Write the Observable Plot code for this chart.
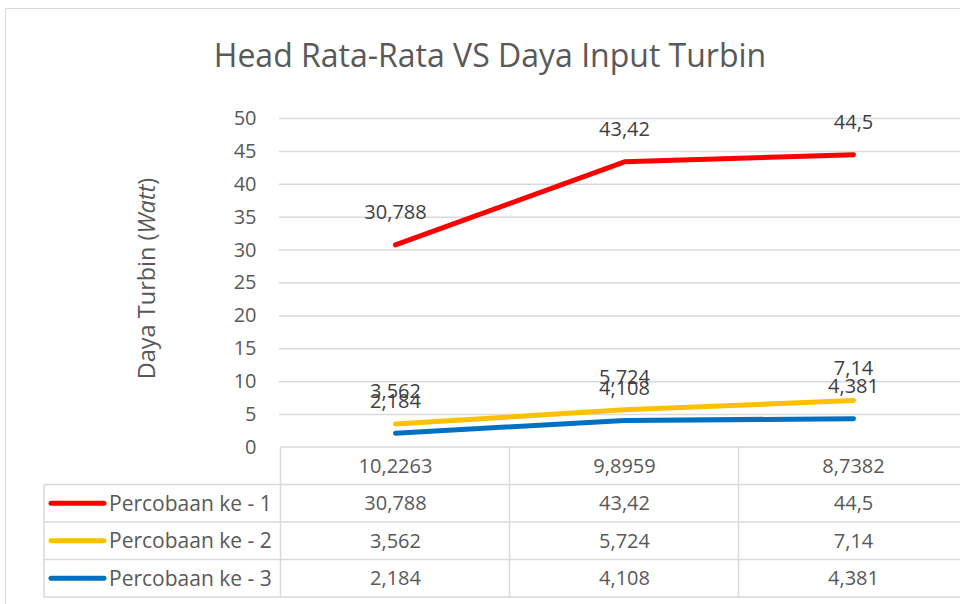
<!DOCTYPE html>
<html>
<head>
<meta charset="utf-8">
<script src="https://cdn.jsdelivr.net/npm/d3@7"></script>
<script src="https://cdn.jsdelivr.net/npm/@observablehq/plot@0.6"></script>
<style>
  html, body { margin: 0; padding: 0; background: #fff; }
  #wrap { position: relative; width: 960px; height: 604px; overflow: hidden; font-family: "Open Sans", sans-serif; }
  #frame { position: absolute; left: 5px; top: 8px; width: 1000px; height: 700px; border-left: 1.5px solid #d9d9d9; border-top: 1.5px solid #d9d9d9; }
  #title { position: absolute; left: 10px; top: 0; width: 960px; height: 100px; line-height: 110px; text-align: center; font-size: 32px; color: #595959; }
  #chart { position: absolute; left: 0; top: 100px; }
  #chart svg { overflow: visible; }
</style>
</head>
<body>
<div id="wrap">
  <div id="frame"></div>
  <div id="title">Head Rata-Rata VS Daya Input Turbin</div>
  <div id="chart"></div>
</div>
<script>
const categories = ["10,2263", "9,8959", "8,7382"];
const seriesNames = ["Percobaan ke - 1", "Percobaan ke - 2", "Percobaan ke - 3"];
const seriesColors = ["#FF0000", "#FFC000", "#0070C0"];
const percobaan1 = [30.788, 43.42, 44.5];
const percobaan2 = [3.562, 5.724, 7.14];
const percobaan3 = [2.184, 4.108, 4.381];
const yTicks = [0, 5, 10, 15, 20, 25, 30, 35, 40, 45, 50];
const yTitle = "Daya Turbin (";
const yTitleItalic = "Watt";
const yTitleEnd = ")";

const seriesValues = [percobaan1, percobaan2, percobaan3];
const fmt = v => String(v).replace(".", ",");
const rows = seriesNames.flatMap((s, i) =>
  categories.map((c, j) => ({series: s, cat: c, value: seriesValues[i][j], row: i})));

const rowH = 37.5;
const textColor = "#404040";
const axisColor = "#595959";
const gridColor = "#d9d9d9";
const fontSize = 20;
const fontFamily = "'Open Sans', sans-serif";

function tableMark(index, scales, values, dims) {
  const x = scales.x;
  const step = x(categories[1]) - x(categories[0]);
  const edges = [x(categories[0]) - step / 2, ...categories.map(c => x(c) + step / 2)];
  const top = dims.height - dims.marginBottom;
  const legendLeft = 44;
  const right = edges[edges.length - 1];
  const g = d3.create("svg:g");
  const lines = g.append("g").attr("stroke", gridColor).attr("stroke-width", 1.5).attr("fill", "none");
  lines.append("line").attr("x1", edges[0]).attr("x2", right).attr("y1", top).attr("y2", top);
  for (let r = 1; r <= seriesNames.length + 1; r++) {
    const yy = top + r * rowH;
    lines.append("line").attr("x1", legendLeft).attr("x2", right).attr("y1", yy).attr("y2", yy);
  }
  edges.forEach(e => {
    lines.append("line").attr("x1", e).attr("x2", e).attr("y1", top).attr("y2", top + (seriesNames.length + 1) * rowH);
  });
  lines.append("line").attr("x1", legendLeft).attr("x2", legendLeft).attr("y1", top + rowH).attr("y2", top + (seriesNames.length + 1) * rowH);
  seriesNames.forEach((s, i) => {
    const cy = top + rowH * (i + 1) + rowH / 2;
    g.append("line").attr("x1", 51).attr("x2", 104).attr("y1", cy).attr("y2", cy)
      .attr("stroke", seriesColors[i]).attr("stroke-width", 5).attr("stroke-linecap", "round");
    g.append("text").attr("x", 109).attr("y", cy).attr("dy", "0.35em")
      .attr("text-anchor", "start")
      .attr("font-size", 21).attr("fill", axisColor).attr("font-family", fontFamily)
      .text(s);
  });
  const t = g.append("text")
    .attr("transform", `translate(147,${(dims.marginTop + top) / 2 - 4}) rotate(-90)`)
    .attr("text-anchor", "middle").attr("dy", "0.35em")
    .attr("font-size", 23.5).attr("fill", axisColor).attr("font-family", fontFamily);
  t.append("tspan").text(yTitle);
  t.append("tspan").attr("font-style", "italic").text(yTitleItalic);
  t.append("tspan").text(yTitleEnd);
  return g.node();
}

const tableTextMarks = [
  Plot.text(categories, {x: d => d, text: d => d, frameAnchor: "bottom", lineAnchor: "middle", dy: rowH / 2, fontSize, fill: axisColor})
];
seriesValues.forEach((vals, i) => {
  tableTextMarks.push(Plot.text(categories.map((c, j) => ({cat: c, value: vals[j]})), {
    x: "cat", text: d => fmt(d.value), frameAnchor: "bottom", lineAnchor: "middle",
    dy: rowH * (i + 1) + rowH / 2, fontSize, fill: axisColor
  }));
});

const chart = Plot.plot({
  width: 960,
  height: 504,
  marginLeft: 279,
  marginRight: -8,
  marginTop: 18,
  marginBottom: 157,
  style: {fontFamily, background: "transparent", overflow: "visible"},
  x: {type: "point", domain: categories, padding: 0.5, axis: null},
  y: {domain: [0, 50], axis: null},
  color: {domain: seriesNames, range: seriesColors},
  marks: [
    Plot.gridY(yTicks.filter(t => t > 0), {stroke: gridColor, strokeOpacity: 1, strokeWidth: 1.5}),
    Plot.axisY(yTicks, {tickSize: 0, tickPadding: 23, fontSize, fill: axisColor, label: null}),
    tableMark,
    Plot.line(rows, {x: "cat", y: "value", z: "series", stroke: "series", strokeWidth: 5, strokeLinecap: "round", strokeLinejoin: "round"}),
    Plot.text(rows, {x: "cat", y: "value", text: d => fmt(d.value), dy: -32, fontSize, fill: textColor}),
    ...tableTextMarks
  ]
});
document.getElementById("chart").appendChild(chart);
</script>
</body>
</html>
